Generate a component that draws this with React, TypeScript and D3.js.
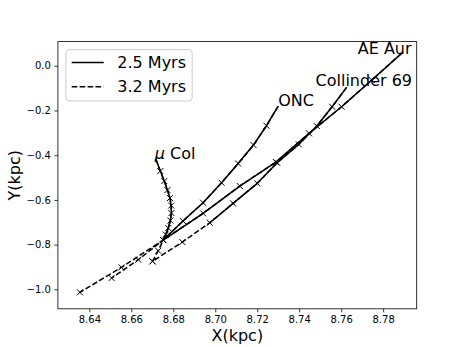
import React, { useEffect, useRef } from 'react'
import * as d3 from 'd3'

// traceback positions (kpc), index 0 = present day
const aeAurX = [8.7888, 8.7746, 8.7602, 8.7447, 8.7289, 8.7117, 8.6942, 8.6752, 8.6553, 8.6355]
const aeAurY = [0.0555, -0.064, -0.1834, -0.3023, -0.4307, -0.538, -0.6601, -0.7795, -0.9016, -1.0134]
const colX = [8.7626, 8.7557, 8.7484, 8.7398, 8.7295, 8.72, 8.7085, 8.6974, 8.6843, 8.6701]
const colY = [-0.0966, -0.1834, -0.2697, -0.3515, -0.4338, -0.5259, -0.6154, -0.7021, -0.7885, -0.8748]
const oncX = [8.73, 8.7244, 8.7182, 8.7109, 8.703, 8.6942, 8.6846, 8.6752, 8.6633, 8.6506]
const oncY = [-0.1802, -0.2683, -0.3547, -0.4374, -0.5233, -0.6127, -0.6946, -0.7795, -0.8676, -0.9495]
const muColX = [8.6717, 8.6738, 8.6757, 8.6772, 8.6784, 8.679, 8.6791, 8.6786, 8.6776, 8.6764, 8.6752, 8.6728, 8.6701]
const muColY = [-0.4186, -0.4709, -0.5157, -0.5559, -0.5917, -0.6252, -0.6588, -0.6923, -0.7258, -0.7549, -0.7795, -0.8274, -0.8748]

// points covered by the 2.5 Myr run (rest is the 3.2 Myr run)
const solidCounts = [8, 8, 8, 11]

const labels = ['AE Aur', 'Collinder 69', 'ONC', 'Col']
const labelX = [8.7679, 8.7478, 8.73, 8.6712]
const labelY = [0.0505, -0.0894, -0.1802, -0.419]

const xTicks = [8.64, 8.66, 8.68, 8.7, 8.72, 8.74, 8.76, 8.78]
const yTicks = [-1.0, -0.8, -0.6, -0.4, -0.2, 0.0]
const legendNames = ['2.5 Myrs', '3.2 Myrs']

const FONT = 'DejaVu Sans, sans-serif'

export default function App() {
    const ref = useRef<SVGSVGElement>(null)

    useEffect(() => {
        const width = 463, height = 347
        const left = 57.9, right = 416.7, top = 41.6, bottom = 308.8
        const svg = d3.select(ref.current)
        svg.selectAll('*').remove()

        const x = d3.scaleLinear().domain([8.625, 8.796]).range([left, right])
        const y = d3.scaleLinear().domain([-1.087, 0.108]).range([bottom, top])

        const tracks = [[aeAurX, aeAurY], [colX, colY], [oncX, oncY], [muColX, muColY]]
        const line = d3.line<[number, number]>().x(d => x(d[0])).y(d => y(d[1]))

        const g = svg.append('g')
        tracks.forEach(([xs, ys], i) => {
            const pts: [number, number][] = xs.map((v, j) => [v, ys[j]])
            // 3.2 Myr, dashed
            g.append('path')
                .attr('d', line(pts))
                .attr('fill', 'none')
                .attr('stroke', 'black')
                .attr('stroke-width', 1.5)
                .attr('stroke-dasharray', '5.55,2.4')
            // 2.5 Myr, solid
            g.append('path')
                .attr('d', line(pts.slice(0, solidCounts[i])))
                .attr('fill', 'none')
                .attr('stroke', 'black')
                .attr('stroke-width', 1.5)
                .attr('stroke-linejoin', 'round')
            g.selectAll(null)
                .data(pts.slice(1))
                .enter()
                .append('path')
                .attr('transform', d => `translate(${x(d[0])},${y(d[1])})`)
                .attr('d', 'M-3,-3L3,3M-3,3L3,-3')
                .attr('stroke', 'black')
                .attr('stroke-width', 1)
        })

        labels.forEach((t, i) => {
            const txt = g.append('text')
                .attr('x', x(labelX[i]))
                .attr('y', y(labelY[i]))
                .attr('font-family', FONT)
                .attr('font-size', 16)
                .attr('fill', 'black')
            if (t === 'Col') {
                txt.append('tspan').attr('font-style', 'italic').text('μ')
                txt.append('tspan').text(' Col')
            } else {
                txt.text(t)
            }
        })

        // axes
        const xAxis = d3.axisBottom(x)
            .tickValues(xTicks)
            .tickSize(3.5)
            .tickPadding(3.5)
            .tickFormat(d3.format('.2f'))
        const yAxis = d3.axisLeft(y)
            .tickValues(yTicks)
            .tickSize(3.5)
            .tickPadding(3.5)
            .tickFormat(d3.format('.1f'))
        const xg = svg.append('g').attr('transform', `translate(0,${bottom})`).call(xAxis)
        const yg = svg.append('g').attr('transform', `translate(${left},0)`).call(yAxis)
        ;[xg, yg].forEach(a => {
            a.select('.domain').remove()
            a.selectAll('line').attr('stroke', 'black').attr('stroke-width', 0.8)
            a.selectAll('text').attr('font-family', FONT).attr('font-size', 10).attr('fill', 'black')
        })

        svg.append('rect')
            .attr('x', left).attr('y', top)
            .attr('width', right - left).attr('height', bottom - top)
            .attr('fill', 'none')
            .attr('stroke', 'black')
            .attr('stroke-width', 0.8)

        svg.append('text')
            .attr('x', (left + right) / 2)
            .attr('y', 341)
            .attr('text-anchor', 'middle')
            .attr('font-family', FONT)
            .attr('font-size', 16)
            .text('X(kpc)')
        svg.append('text')
            .attr('transform', `translate(20,${(top + bottom) / 2}) rotate(-90)`)
            .attr('text-anchor', 'middle')
            .attr('font-family', FONT)
            .attr('font-size', 16)
            .text('Y(kpc)')

        // legend
        const lg = svg.append('g').attr('transform', `translate(${left + 8},${top + 8})`)
        lg.append('rect')
            .attr('width', 126.3).attr('height', 51.4)
            .attr('rx', 3.5)
            .attr('fill', 'white').attr('fill-opacity', 0.8)
            .attr('stroke', '#cccccc').attr('stroke-width', 1)
        legendNames.forEach((name, i) => {
            const cy = 12.8 + i * 24.4
            lg.append('line')
                .attr('x1', 5.8).attr('x2', 37.8)
                .attr('y1', cy).attr('y2', cy)
                .attr('stroke', 'black').attr('stroke-width', 1.5)
                .attr('stroke-dasharray', i === 1 ? '5.55,2.4' : null)
            lg.append('text')
                .attr('x', 51.4).attr('y', cy + 5.6)
                .attr('font-family', FONT).attr('font-size', 16)
                .text(name)
        })
    }, [])

    return (
        <svg ref={ref} width={463} height={347}
            style={{ position: 'absolute', left: 0, top: 0, background: 'white' }} />
    )
}
